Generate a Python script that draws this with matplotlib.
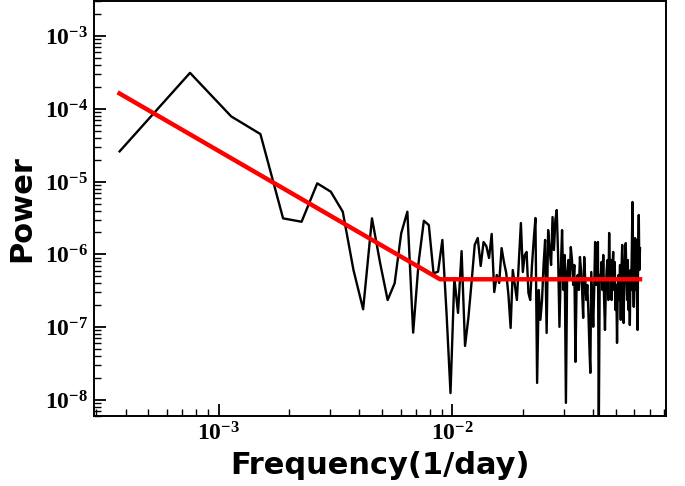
import numpy as np
import matplotlib
matplotlib.use("Agg")
import matplotlib.pyplot as plt
from matplotlib import ticker

# bold serif numbers for the log tick labels
plt.rcParams["mathtext.fontset"] = "custom"
plt.rcParams["mathtext.rm"] = "Liberation Serif:bold"
plt.rcParams["mathtext.it"] = "Liberation Serif:bold"
plt.rcParams["mathtext.bf"] = "Liberation Serif:bold"

# periodogram: frequencies are k / baseline (baseline ~2650 days)
baseline_days = 2650.0
n_freq = 168
power = [
    2.61e-5, 3.13e-4, 7.89e-5, 4.51e-5, 3.13e-6, 2.81e-6, 9.48e-6, 7.27e-6,
    3.86e-6, 6.1e-7, 1.76e-7, 3.13e-6, 7.62e-7, 2.36e-7, 4.01e-7, 1.95e-6,
    3.86e-6, 8.4e-8, 7.87e-7, 2.9e-6, 2.53e-6, 5.5e-7, 5.78e-7, 1.58e-6,
    1.57e-7, 1.24e-8, 4.74e-7, 1.57e-7, 1.11e-6, 5.52e-8, 1.34e-7, 4.18e-7,
    1.35e-6, 1.68e-6, 6.93e-7, 1.48e-6, 1.30e-6, 8.92e-7, 1.91e-6, 3.04e-7,
    5.21e-7, 4.05e-7, 1.22e-6, 7.87e-7, 5.55e-7, 2.77e-7, 9.75e-8, 6.1e-7,
    3.8e-7, 2.36e-7, 8.38e-7, 2.7e-6, 5.73e-7, 9.82e-7, 1.08e-6, 2.95e-7,
    2.36e-7, 7.15e-7, 1.58e-6, 3.16e-6, 1.71e-8, 3.24e-7, 1.26e-7, 2.29e-7,
    7.15e-7, 1.58e-6, 8.32e-8, 2.16e-6, 1.15e-6, 7.15e-7, 3.26e-6, 1.15e-6,
    2.97e-6, 4.07e-6, 9.82e-7, 1.01e-7, 6.1e-7, 2.16e-6, 3.24e-7, 9.82e-7,
    9.1e-9, 5.73e-7, 8.38e-7, 4.45e-7, 1.26e-6, 8.38e-7, 3.8e-7, 7.15e-7,
    3.33e-8, 4.05e-7, 5.21e-7, 3.24e-7, 9.21e-7, 6.1e-7, 3.24e-7, 1.34e-7,
    9.21e-7, 4.45e-7, 2.36e-7, 3.8e-7, 1.72e-7, 5.7e-8, 2.35e-8, 5.73e-7,
    2.36e-7, 1.01e-7, 3.24e-7, 1.48e-6, 3.8e-7, 8.38e-7, 1.48e-6, 3.9e-9,
    5.21e-7, 4.45e-7, 7.87e-7, 3.24e-7, 9.82e-7, 2.36e-7, 9.15e-8, 3.24e-7,
    6.1e-7, 8.38e-7, 2.36e-7, 1.97e-6, 4.45e-7, 8.38e-7, 2.36e-7, 6.1e-7,
    1.08e-6, 3.24e-7, 7.87e-7, 1.72e-7, 3.8e-7, 6.07e-8, 3.24e-7, 5.21e-7,
    2.36e-7, 7.15e-7, 1.26e-7, 6.1e-7, 1.35e-6, 3.24e-7, 1.14e-7, 6.1e-7,
    9.82e-7, 1.43e-6, 4.45e-7, 2.36e-7, 8.38e-7, 1.72e-7, 4.45e-7, 1.07e-7,
    6.1e-7, 3.24e-7, 1.15e-6, 5.25e-6, 4.45e-7, 1.9e-7, 7.15e-7, 1.68e-6,
    3.24e-7, 1.58e-6, 2.36e-7, 9.15e-8, 1.15e-6, 3.48e-6, 6.1e-7, 1.22e-6,
]
freq = np.arange(1, n_freq + 1) / baseline_days

# bending power-law model (vertices of the fitted red line)
model_freq = [3.77e-4, 8.85e-3, 6.34e-2]
model_power = [1.63e-4, 4.55e-7, 4.55e-7]


def pow10_label(v, pos):
    return r"$\mathrm{10^{%d}}$" % int(round(np.log10(v)))


fig = plt.figure(figsize=(6.85, 4.86), dpi=100)
ax = fig.add_axes([0.1365, 0.144, 0.8358, 0.853])

ax.plot(freq, power, color="black", lw=1.7)
ax.plot(model_freq, model_power, color="red", lw=3.2)

ax.set_xscale("log")
ax.set_yscale("log")
ax.set_ylim(6e-9, 3e-3)

for axis in (ax.xaxis, ax.yaxis):
    axis.set_major_formatter(ticker.FuncFormatter(pow10_label))
    axis.set_minor_formatter(ticker.NullFormatter())

ax.tick_params(which="both", direction="in", top=False, right=False)
ax.tick_params(which="major", length=8.5, width=1.3, labelsize=17, pad=4)
ax.tick_params(which="minor", length=4.8, width=1.0)
for sp in ax.spines.values():
    sp.set_linewidth(1.4)

ax.set_xlabel("Frequency(1/day)", fontsize=22, fontweight="bold", labelpad=4)
ax.set_ylabel("Power", fontsize=22, fontweight="bold")
ax.yaxis.set_label_coords(-0.1, 0.5)

fig.savefig("out.png", dpi=100)
